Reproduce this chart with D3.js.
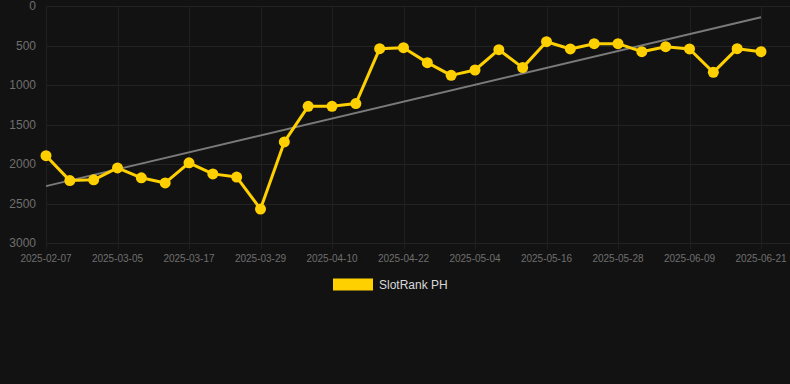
<!DOCTYPE html>
<html lang="en">
<head>
    <meta charset="UTF-8">
    <title>SlotRank PH</title>
    <script src="https://d3js.org/d3.v7.min.js"></script>
    <style>
        html, body {
            margin: 0;
            padding: 0;
            background: #121212;
        }
        svg {
            display: block;
            font-family: "Liberation Sans", Arial, sans-serif;
        }
    </style>
</head>
<body>
    <svg id="chart"></svg>

    <script>
        const dates = [
            "2025-02-07", "2025-02-25", "2025-03-01", "2025-03-05", "2025-03-09", "2025-03-13",
            "2025-03-17", "2025-03-21", "2025-03-25", "2025-03-29", "2025-04-02", "2025-04-06",
            "2025-04-10", "2025-04-14", "2025-04-18", "2025-04-22", "2025-04-26", "2025-04-30",
            "2025-05-04", "2025-05-08", "2025-05-12", "2025-05-16", "2025-05-20", "2025-05-24",
            "2025-05-28", "2025-06-01", "2025-06-05", "2025-06-09", "2025-06-13", "2025-06-17",
            "2025-06-21"
        ];
        const ranks = [
            1895, 2210, 2200, 2050, 2175, 2240, 1985, 2125, 2165, 2570, 1720,
            1270, 1270, 1235, 540, 528, 717, 878, 810, 553, 780,
            452, 544, 477, 477, 578, 515, 544, 840, 540, 578
        ];
        const trend = [2280, 143];
        const yTicks = [0, 500, 1000, 1500, 2000, 2500, 3000];
        const seriesName = "SlotRank PH";

        const width = 790, height = 384;
        const margin = { left: 46, right: 761, gridRight: 790, top: 6, bottom: 243 };

        const svg = d3.select("#chart")
            .attr("width", width)
            .attr("height", height);

        svg.append("rect")
            .attr("width", width)
            .attr("height", height)
            .attr("fill", "#121212");

        const x = d3.scalePoint()
            .domain(d3.range(dates.length))
            .range([margin.left, margin.right]);

        const y = d3.scaleLinear()
            .domain([0, 3000])
            .range([margin.top, margin.bottom]);

        const shownTicks = d3.range(0, dates.length, 3);

        // grid
        svg.append("g")
            .selectAll("line")
            .data(yTicks)
            .join("line")
            .attr("x1", margin.left)
            .attr("x2", margin.gridRight)
            .attr("y1", d => Math.round(y(d)) + 0.5)
            .attr("y2", d => Math.round(y(d)) + 0.5)
            .attr("stroke", "#232323");

        svg.append("g")
            .selectAll("line")
            .data(shownTicks)
            .join("line")
            .attr("x1", d => Math.round(x(d)) + 0.5)
            .attr("x2", d => Math.round(x(d)) + 0.5)
            .attr("y1", margin.top)
            .attr("y2", margin.bottom + 6)
            .attr("stroke", "#1f1f1f");

        // y axis labels
        svg.append("g")
            .selectAll("text")
            .data(yTicks)
            .join("text")
            .attr("x", 36)
            .attr("y", d => y(d) + 4)
            .attr("text-anchor", "end")
            .attr("fill", "#6f6f6f")
            .style("font-size", "12px")
            .text(d => d);

        // x axis labels
        svg.append("g")
            .selectAll("text")
            .data(shownTicks)
            .join("text")
            .attr("x", d => x(d))
            .attr("y", 262)
            .attr("text-anchor", "middle")
            .attr("fill", "#6f6f6f")
            .style("font-size", "10px")
            .text(d => dates[d]);

        // trend line
        svg.append("line")
            .attr("x1", x(0))
            .attr("x2", x(dates.length - 1))
            .attr("y1", y(trend[0]))
            .attr("y2", y(trend[1]))
            .attr("stroke", "#7a7a7a")
            .attr("stroke-width", 2);

        const line = d3.line()
            .x((d, i) => x(i))
            .y(d => y(d));

        svg.append("path")
            .datum(ranks)
            .attr("d", line)
            .attr("fill", "none")
            .attr("stroke", "#ffd000")
            .attr("stroke-width", 3)
            .attr("stroke-linejoin", "round");

        svg.append("g")
            .selectAll("circle")
            .data(ranks)
            .join("circle")
            .attr("cx", (d, i) => x(i))
            .attr("cy", d => y(d))
            .attr("r", 5.5)
            .attr("fill", "#ffd000");

        // legend
        const legend = svg.append("g");
        legend.append("rect")
            .attr("x", 333)
            .attr("y", 278.5)
            .attr("width", 40)
            .attr("height", 12)
            .attr("fill", "#ffd000");
        legend.append("text")
            .attr("x", 379)
            .attr("y", 289)
            .attr("fill", "#d8d8d8")
            .style("font-size", "12px")
            .text(seriesName);
    </script>
</body>
</html>
